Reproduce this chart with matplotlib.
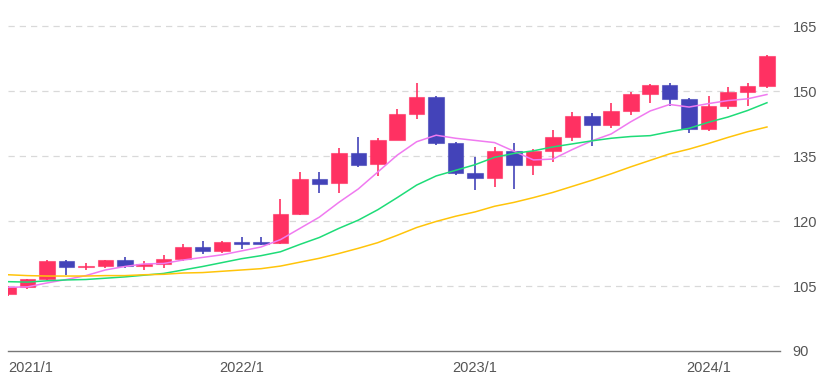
import numpy as np
import matplotlib.pyplot as plt


# ============================================================
# 1. DATA  (monthly candles, 2021/1 .. 2024/4)
# ============================================================

opens = [103.2, 104.7, 106.6, 110.7, 109.3, 109.6, 111.1, 109.6, 110.0, 111.3,
         114.0, 113.1, 115.2, 115.2, 115.0, 121.7, 129.8, 128.7, 135.7, 133.2,
         138.8, 144.6, 148.6, 138.0, 131.1, 130.0, 136.1, 132.9, 136.2, 139.3,
         144.2, 142.1, 145.4, 149.3, 151.5, 148.1, 141.2, 146.6, 149.8, 151.1]
closes = [104.8, 106.6, 110.7, 109.3, 109.7, 111.1, 109.7, 110.1, 111.3, 114.0,
          113.1, 115.1, 114.8, 114.7, 121.7, 129.8, 128.6, 135.8, 133.0, 138.8,
          144.6, 148.6, 138.0, 131.1, 130.0, 136.1, 132.9, 136.2, 139.3, 144.2,
          142.1, 145.4, 149.3, 151.5, 148.1, 141.2, 146.6, 149.8, 151.1, 158.0]
highs = [104.9, 106.7, 111.0, 111.0, 110.3, 111.1, 111.6, 110.8, 112.2, 114.7,
         115.5, 115.5, 116.3, 116.3, 125.1, 131.2, 131.3, 136.9, 139.3, 139.1,
         145.9, 151.9, 148.8, 138.2, 134.8, 137.1, 137.9, 136.6, 140.9, 145.1,
         144.9, 147.3, 149.7, 151.7, 151.9, 148.3, 148.8, 150.9, 151.9, 158.4]
lows = [102.6, 104.4, 106.4, 107.5, 108.6, 109.2, 109.1, 108.8, 109.1, 110.8,
        112.5, 112.6, 113.5, 114.4, 114.7, 121.3, 126.4, 126.4, 132.5, 130.4,
        138.7, 143.5, 137.5, 130.6, 127.2, 127.9, 127.5, 130.6, 133.7, 138.4,
        137.2, 141.5, 144.4, 147.3, 146.6, 140.2, 140.8, 145.9, 146.5, 150.8]

# moving averages as drawn (short / mid / long)
ma_short = [104.7, 104.8, 105.7, 106.5, 107.4, 108.7, 109.5, 110.1, 110.2, 111.0,
            111.6, 112.2, 113.1, 114.0, 115.7, 118.3, 120.9, 124.3, 127.4, 131.3,
            135.2, 138.3, 139.8, 139.1, 138.6, 138.1, 136.1, 134.1, 134.3, 136.5,
            138.5, 140.1, 142.9, 145.4, 146.9, 146.3, 147.1, 147.8, 148.2, 149.2]
ma_mid = [106.0, 105.9, 106.2, 106.4, 106.5, 106.8, 107.1, 107.5, 107.9, 108.7,
          109.5, 110.4, 111.3, 112.0, 112.9, 114.6, 116.2, 118.3, 120.2, 122.6,
          125.4, 128.3, 130.4, 131.7, 133.0, 134.7, 135.6, 136.2, 137.1, 137.8,
          138.5, 139.1, 139.5, 139.7, 140.6, 141.4, 142.8, 144.0, 145.5, 147.3]
ma_long = [107.6, 107.4, 107.3, 107.3, 107.3, 107.4, 107.4, 107.6, 107.7, 108.0,
           108.1, 108.4, 108.7, 109.0, 109.6, 110.5, 111.4, 112.5, 113.7, 115.0,
           116.7, 118.5, 119.9, 121.1, 122.1, 123.4, 124.3, 125.4, 126.6, 128.0,
           129.4, 130.9, 132.5, 134.0, 135.5, 136.6, 137.9, 139.3, 140.6, 141.7]

tick_idx = [0, 12, 24, 36]
tick_labels = ["2021/1", "2022/1", "2023/1", "2024/1"]
y_ticks = [90, 105, 120, 135, 150, 165]

UP = "#ff3162"
DOWN = "#4343b9"

# ============================================================
# 2. PLOT
# ============================================================

plt.rcParams["font.family"] = ["Liberation Sans", "DejaVu Sans"]

fig = plt.figure(figsize=(8.34, 3.79), dpi=100)
ax = fig.add_axes([8 / 834, 28 / 379, 772 / 834, 341 / 379])

x = np.arange(len(opens))
o = np.array(opens)
c = np.array(closes)
colors = [UP if cc >= oo else DOWN for oo, cc in zip(o, c)]

ax.vlines(x, lows, highs, colors=colors, linewidth=1.2, zorder=2)
body = np.where(np.abs(c - o) < 0.35, np.sign(c - o + 1e-9) * 0.35, c - o)
ax.bar(x, body, bottom=o, width=0.8, color=colors,
       edgecolor=[col + "99" for col in colors], linewidth=0.8, zorder=3)

ax.plot(x, ma_short, color="#f07af0", lw=1.1, zorder=4)
ax.plot(x, ma_mid, color="#1edc78", lw=1.1, zorder=4)
ax.plot(x, ma_long, color="#ffc40a", lw=1.1, zorder=4)

ax.set_xlim(0, 39.67)
ax.set_ylim(90, 168.7)

ax.yaxis.tick_right()
ax.set_yticks(y_ticks)
ax.tick_params(axis="y", length=0, pad=9, labelsize=10.5, labelcolor="#555555")
ax.set_xticks(tick_idx)
ax.set_xticklabels(tick_labels)
ax.tick_params(axis="x", length=0, pad=7, labelsize=10.5, labelcolor="#555555")
ax.get_xticklabels()[0].set_horizontalalignment("left")

for v in y_ticks[1:]:
    ax.axhline(v, color="#d9d9d9", lw=0.9, ls=(0, (5, 4)), zorder=1)

for side in ["top", "right", "left"]:
    ax.spines[side].set_visible(False)
ax.spines["bottom"].set_color("#777777")
ax.spines["bottom"].set_linewidth(1.0)

fig.savefig("out.png", dpi=100)
